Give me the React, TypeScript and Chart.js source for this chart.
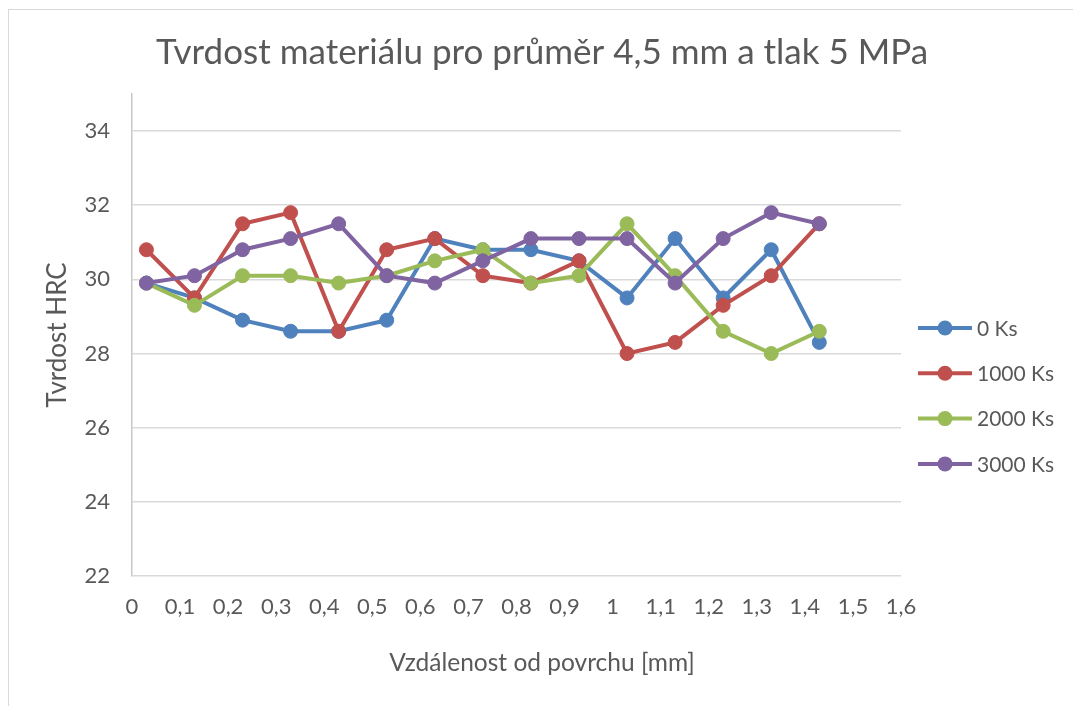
import React, { useEffect, useRef } from 'react';
import { Chart, registerables } from 'chart.js';

Chart.register(...registerables);

const chartTitle = 'Tvrdost materiálu pro průměr 4,5 mm a tlak 5 MPa';
const xAxisTitle = 'Vzdálenost od povrchu [mm]';
const yAxisTitle = 'Tvrdost HRC';

const distances = [0.03, 0.13, 0.23, 0.33, 0.43, 0.53, 0.63, 0.73, 0.83, 0.93, 1.03, 1.13, 1.23, 1.33, 1.43];

const series0Ks = [29.9, 29.5, 28.9, 28.6, 28.6, 28.9, 31.1, 30.8, 30.8, 30.5, 29.5, 31.1, 29.5, 30.8, 28.3];
const series1000Ks = [30.8, 29.5, 31.5, 31.8, 28.6, 30.8, 31.1, 30.1, 29.9, 30.5, 28.0, 28.3, 29.3, 30.1, 31.5];
const series2000Ks = [29.9, 29.3, 30.1, 30.1, 29.9, 30.1, 30.5, 30.8, 29.9, 30.1, 31.5, 30.1, 28.6, 28.0, 28.6];
const series3000Ks = [29.9, 30.1, 30.8, 31.1, 31.5, 30.1, 29.9, 30.5, 31.1, 31.1, 31.1, 29.9, 31.1, 31.8, 31.5];

const seriesNames = ['0 Ks', '1000 Ks', '2000 Ks', '3000 Ks'];
const seriesColors = ['#4F81BD', '#C0504D', '#9BBB59', '#8064A2'];

const xTickValues = [0, 0.1, 0.2, 0.3, 0.4, 0.5, 0.6, 0.7, 0.8, 0.9, 1, 1.1, 1.2, 1.3, 1.4, 1.5, 1.6];
const yTickValues = [22, 24, 26, 28, 30, 32, 34];

const FONT = 'Lato, "Open Sans", sans-serif';
const TEXT = '#595959';

const framePlugin = {
  id: 'frame',
  beforeDraw(chart: any) {
    const ctx = chart.ctx;
    ctx.save();
    ctx.fillStyle = '#FFFFFF';
    ctx.fillRect(0, 0, chart.width, chart.height);
    ctx.strokeStyle = '#D9D9D9';
    ctx.lineWidth = 1;
    ctx.strokeRect(8.5, 9.5, chart.width + 20, chart.height + 20);
    ctx.restore();
  },
};

const titleLegendPlugin = {
  id: 'titleLegend',
  afterDraw(chart: any) {
    const ctx = chart.ctx;
    ctx.save();
    ctx.fillStyle = TEXT;
    ctx.font = `35px ${FONT}`;
    ctx.textAlign = 'center';
    ctx.textBaseline = 'middle';
    ctx.fillText(chartTitle, 542, 53);

    ctx.font = `24.5px ${FONT}`;
    ctx.fillText(xAxisTitle, 542, 663);

    const x0 = chart.chartArea.right + 17;
    const lineLen = 54;
    const y0 = 328;
    const step = 45.3;
    chart.data.datasets.forEach((ds: any, i: number) => {
      const y = y0 + i * step;
      ctx.strokeStyle = ds.borderColor;
      ctx.lineWidth = 4;
      ctx.beginPath();
      ctx.moveTo(x0, y);
      ctx.lineTo(x0 + lineLen, y);
      ctx.stroke();
      ctx.fillStyle = ds.borderColor;
      ctx.beginPath();
      ctx.arc(x0 + lineLen / 2, y, 7.5, 0, Math.PI * 2);
      ctx.fill();
      ctx.fillStyle = TEXT;
      ctx.font = `21px ${FONT}`;
      ctx.textAlign = 'left';
      ctx.textBaseline = 'middle';
      ctx.fillText(ds.label, x0 + lineLen + 5, y + 1);
    });
    ctx.restore();
  },
};

function makeDataset(label: string, values: number[], color: string, order: number) {
  return {
    label,
    data: distances.map((x, i) => ({ x, y: values[i] })),
    borderColor: color,
    backgroundColor: color,
    borderWidth: 4,
    pointRadius: 7,
    pointBorderWidth: 1,
    pointBackgroundColor: color,
    pointBorderColor: color,
    pointHoverRadius: 7,
    tension: 0,
    order,
  };
}

export default function App() {
  const canvasRef = useRef<HTMLCanvasElement | null>(null);

  useEffect(() => {
    document.body.style.margin = '0';
    const canvas = canvasRef.current;
    if (!canvas) return;
    const allSeries = [series0Ks, series1000Ks, series2000Ks, series3000Ks];
    const chart = new Chart(canvas, {
      type: 'line',
      data: {
        datasets: allSeries.map((vals, i) => makeDataset(seriesNames[i], vals, seriesColors[i], allSeries.length - 1 - i)),
      },
      options: {
        animation: false,
        responsive: false,
        devicePixelRatio: 1,
        events: [],
        layout: { padding: { top: 94, right: 172, left: 0, bottom: 0 } },
        plugins: {
          legend: { display: false },
          title: { display: false },
          tooltip: { enabled: false },
        },
        scales: {
          x: {
            type: 'linear',
            min: 0,
            max: 1.6,
            afterFit(scale: any) {
              scale.height = 130;
            },
            afterBuildTicks(scale: any) {
              scale.ticks = xTickValues.map((v) => ({ value: v }));
            },
            grid: { display: false, drawTicks: false },
            border: { display: false },
            ticks: {
              autoSkip: false,
              maxRotation: 0,
              padding: 18,
              color: TEXT,
              font: { family: FONT, size: 22 },
              callback: (v: any) => {
                const n = Math.round(Number(v) * 10) / 10;
                return String(n).replace('.', ',');
              },
            },
            title: { display: false },
          },
          y: {
            type: 'linear',
            min: 22,
            max: 35,
            afterFit(scale: any) {
              scale.width = 132;
            },
            afterBuildTicks(scale: any) {
              scale.ticks = yTickValues.map((v) => ({ value: v }));
            },
            grid: { color: '#D9D9D9', lineWidth: 1.5, drawTicks: false },
            border: { display: true, color: '#C8C8C8', width: 1.5 },
            ticks: {
              padding: 22,
              color: TEXT,
              font: { family: FONT, size: 22 },
            },
            title: {
              display: true,
              text: yAxisTitle,
              color: TEXT,
              font: { family: FONT, size: 26 },
              padding: { top: 42, bottom: 0 },
            },
          },
        },
      },
      plugins: [framePlugin, titleLegendPlugin],
    } as any);
    return () => chart.destroy();
  }, []);

  return (
    <div style={{ position: 'fixed', left: 0, top: 0, width: 1073, height: 706 }}>
      <canvas ref={canvasRef} width={1073} height={706} style={{ width: 1073, height: 706, display: 'block' }} />
    </div>
  );
}
